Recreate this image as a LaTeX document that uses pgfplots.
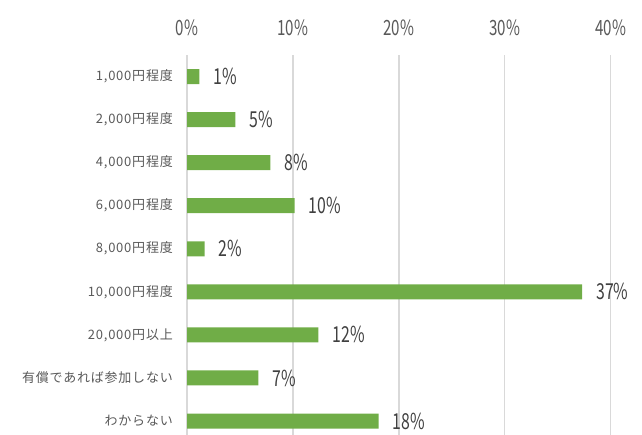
\documentclass[border=0pt]{standalone}
\usepackage{pgfplots}
\pgfplotsset{compat=1.18}
\usepackage{fontspec}
\setmainfont{Noto Sans CJK JP}
\newfontfamily\numfont[FakeStretch=0.72]{Noto Sans CJK JP}
\newfontfamily\catfont[LetterSpace=6]{Noto Sans CJK JP}
\definecolor{bargreen}{HTML}{70AD47}
\definecolor{txtgray}{HTML}{595959}
\definecolor{valgray}{HTML}{404040}
\definecolor{gridgray}{HTML}{D9D9D9}
\begin{document}
\begin{tikzpicture}
\useasboundingbox (0,0) rectangle (642pt,435pt);
\begin{axis}[
  at={(187pt,0pt)}, anchor=south west,
  scale only axis, width=423.7pt, height=380pt,
  xmin=0, xmax=40, ymin=-0.5, ymax=8.325,
  y dir=reverse,
  xbar, bar width=15pt,
  axis line style={draw=none},
  major tick length=0pt,
  xmajorgrids, grid style={draw=gridgray, line width=1.3pt},
  xtick={0,10,20,30,40},
  xticklabels={0\%,10\%,20\%,30\%,40\%},
  xticklabel pos=right,
  xticklabel style={anchor=base, yshift=20pt, inner sep=0pt, text=txtgray, font=\numfont\fontsize{21}{21}\selectfont},
  ytick={0,1,2,3,4,5,6,7,8},
  yticklabels={{1,000円程度},{2,000円程度},{4,000円程度},{6,000円程度},{8,000円程度},{10,000円程度},{20,000円以上},{有償であれば参加しない},{わからない}},
  yticklabel style={anchor=east, xshift=-14pt, inner sep=0pt, text=txtgray, font=\catfont\fontsize{13}{13}\selectfont},
  nodes near coords,
  point meta=explicit symbolic,
  every node near coord/.append style={anchor=west, xshift=14pt, inner sep=0pt, text=valgray, font=\numfont\fontsize{22}{22}\selectfont},
]
\addplot[fill=bargreen, draw=none] coordinates {
  (1.16,0) [1\%]
  (4.56,1) [5\%]
  (7.87,2) [8\%]
  (10.16,3) [10\%]
  (1.66,4) [2\%]
  (37.3,5) [37\%]
  (12.4,6) [12\%]
  (6.73,7) [7\%]
  (18.1,8) [18\%]
};
\end{axis}
\end{tikzpicture}
\end{document}
